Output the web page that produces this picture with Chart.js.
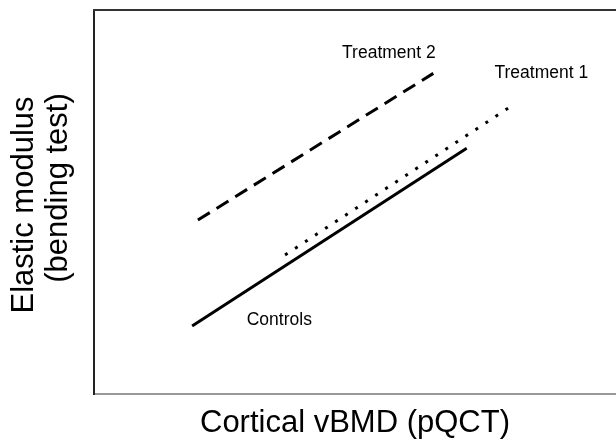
<!DOCTYPE html>
<html>
<head>
<meta charset="utf-8">
<script src="https://cdn.jsdelivr.net/npm/chart.js@4.4.1/dist/chart.umd.min.js"></script>
<style>
  html, body { margin: 0; padding: 0; background: #fff; }
  #wrap { width: 616px; height: 439px; }
</style>
</head>
<body>
<div id="wrap"><canvas id="c" width="616" height="439"></canvas></div>
<script>
// Data (arbitrary units, no ticks shown in the reference)
const seriesNames = ['Controls', 'Treatment 1', 'Treatment 2'];
const controlsX = [1.88, 7.14];
const controlsY = [1.77, 6.40];
const treatment1X = [3.66, 8.03];
const treatment1Y = [3.62, 7.53];
const treatment2X = [1.99, 6.50];
const treatment2Y = [4.53, 8.35];
const xTitle = 'Cortical vBMD (pQCT)';
const yTitle = ['Elastic modulus', '(bending test)'];

function pts(xs, ys) { return xs.map((x, i) => ({ x: x, y: ys[i] })); }

const FONT = 'Liberation Sans, Arial, Helvetica, sans-serif';

// label anchors in data units
const labelAnchors = [
  { text: 'Treatment 2', x: 5.65, y: 8.87 },
  { text: 'Treatment 1', x: 8.57, y: 8.35 },
  { text: 'Controls', x: 3.55, y: 1.93 }
];

const labelPlugin = {
  id: 'labels',
  afterDatasetsDraw(chart) {
    const ctx = chart.ctx;
    const xs = chart.scales.x, ys = chart.scales.y;
    const a = chart.chartArea;
    ctx.save();
    ctx.fillStyle = '#000';
    ctx.font = '17.5px ' + FONT;
    ctx.textAlign = 'center';
    ctx.textBaseline = 'middle';
    labelAnchors.forEach(l => {
      ctx.fillText(l.text, xs.getPixelForValue(l.x), ys.getPixelForValue(l.y));
    });
    // y-axis title (two lines, rotated)
    const mid = (a.top + a.bottom) / 2;
    ctx.font = '31px ' + FONT;
    ctx.save();
    ctx.translate(24, mid + 3);
    ctx.rotate(-Math.PI / 2);
    ctx.fillText(yTitle[0], 0, 0);
    ctx.restore();
    ctx.save();
    ctx.translate(58, mid - 14);
    ctx.rotate(-Math.PI / 2);
    ctx.fillText(yTitle[1], 0, 0);
    ctx.restore();
    // top border of the frame
    ctx.strokeStyle = '#333';
    ctx.lineWidth = 2;
    ctx.beginPath();
    ctx.moveTo(a.left - 1, a.top);
    ctx.lineTo(a.right, a.top);
    ctx.stroke();
    ctx.restore();
  }
};

new Chart(document.getElementById('c'), {
  type: 'line',
  data: {
    datasets: [
      { label: seriesNames[0], data: pts(controlsX, controlsY), borderColor: '#000', borderWidth: 3, pointRadius: 0, tension: 0 },
      { label: seriesNames[1], data: pts(treatment1X, treatment1Y), borderColor: '#000', borderWidth: 3, borderDash: [3, 9], pointRadius: 0, tension: 0 },
      { label: seriesNames[2], data: pts(treatment2X, treatment2Y), borderColor: '#000', borderWidth: 3, borderDash: [14, 8], pointRadius: 0, tension: 0 }
    ]
  },
  options: {
    responsive: false,
    animation: false,
    layout: { padding: { top: 10, right: 0, left: 0, bottom: 0 } },
    plugins: { legend: { display: false }, tooltip: { enabled: false } },
    scales: {
      x: {
        type: 'linear', min: 0, max: 10,
        ticks: { display: false },
        grid: { display: false, drawTicks: false },
        border: { display: true, color: '#999', width: 2 },
        title: { display: true, text: xTitle, color: '#000', font: { family: FONT, size: 31, lineHeight: 1 }, padding: { top: 0, bottom: 0 } },
        afterFit(axis) { axis.height = 45; }
      },
      y: {
        type: 'linear', min: 0, max: 10,
        ticks: { display: false },
        grid: { display: false, drawTicks: false },
        border: { display: true, color: '#222', width: 2 },
        title: { display: false },
        afterFit(axis) { axis.width = 94; }
      }
    }
  },
  plugins: [labelPlugin]
});
</script>
</body>
</html>
